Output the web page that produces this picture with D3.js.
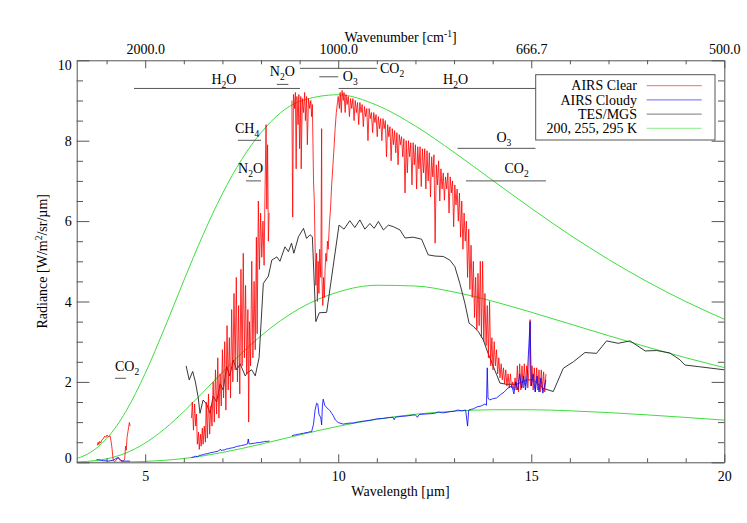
<!DOCTYPE html>
<html><head><meta charset="utf-8">
<script src="https://cdn.jsdelivr.net/npm/d3@7"></script>
<style>
html,body{margin:0;padding:0;background:#fff;}
svg{display:block;}
</style></head><body>
<svg id="chart" width="747" height="523"></svg>
<script>
// ---------------- data ----------------
const wavelengthTicks = [5, 10, 15, 20];
const wavelengthMinor = [4, 6, 7, 8, 9, 11, 12, 13, 14, 16, 17, 18, 19];
const radianceTicks = [0, 2, 4, 6, 8, 10];
const radianceMinor = [0.5,1,1.5,2.5,3,3.5,4.5,5,5.5,6.5,7,7.5,8.5,9,9.5];

// Planck curves (values read / tabulated for 200, 255, 295 K)
const planckWl = [3.2258,3.5,3.75,4,4.25,4.5,5,5.5,6,6.5,7,7.5,8,9,10,11,12,13,14,15,16,17,18,19,20];
const planck295 = [0.093,0.201,0.361,0.589,0.891,1.268,2.212,3.334,4.520,5.661,6.682,7.535,8.199,8.977,9.143,8.883,8.365,7.712,7.013,6.317,5.657,5.047,4.494,4.000,3.559];
const planck255 = [0.0086,0.0226,0.0469,0.0870,0.1473,0.2316,0.4789,0.8295,1.2624,1.744,2.239,2.714,3.147,3.827,4.237,4.404,4.385,4.236,4.007,3.733,3.442,3.150,2.868,2.602,2.356];
const planck200 = [0.0001,0.0003,0.0008,0.0018,0.0038,0.0074,0.0215,0.0494,0.0951,0.1603,0.2439,0.3427,0.4521,0.6815,0.8953,1.0699,1.1955,1.2724,1.3069,1.3069,1.2810,1.2366,1.1800,1.1162,1.0488];

// TES/MGS spectrum [wavelength, radiance]
const tesMgs = [[6.06,2.40],[6.14,2.05],[6.23,2.26],[6.30,2.00],[6.37,1.63],[6.42,1.22],[6.50,1.55],[6.59,1.45],[6.68,1.22],[6.76,1.65],[6.85,1.50],[6.94,1.95],[7.02,1.80],[7.11,2.38],[7.19,2.15],[7.28,2.54],[7.37,2.30],[7.46,2.45],[7.59,2.15],[7.67,2.25],[7.76,2.30],[7.85,2.15],[7.95,2.60],[8.06,4.45],[8.19,4.63],[8.28,5.03],[8.41,5.11],[8.49,5.00],[8.62,5.36],[8.71,5.24],[8.79,5.45],[8.85,5.20],[8.97,5.61],[9.10,5.82],[9.18,5.57],[9.27,5.66],[9.33,5.61],[9.42,3.50],[9.51,3.72],[9.70,3.73],[10.02,5.90],[10.15,5.80],[10.30,6.01],[10.43,5.84],[10.56,6.03],[10.69,5.80],[10.82,5.94],[10.93,5.82],[11.04,5.99],[11.17,5.78],[11.30,5.90],[11.43,5.86],[11.60,5.78],[11.73,5.58],[11.94,5.60],[12.16,5.55],[12.33,5.16],[12.51,5.13],[12.72,5.12],[12.89,5.03],[13.02,4.87],[13.15,4.45],[13.28,3.96],[13.39,3.46],[13.50,3.38],[13.63,3.25],[13.76,3.04],[13.85,2.79],[14.02,2.38],[14.19,1.97],[14.36,1.94],[14.62,1.94],[14.88,2.05],[15.05,2.05],[15.31,1.84],[15.57,1.76],[15.83,2.34],[16.09,2.50],[16.39,2.73],[16.69,2.71],[16.95,3.02],[17.25,2.96],[17.56,3.02],[17.95,2.77],[18.25,2.78],[18.59,2.72],[18.85,2.55],[18.98,2.42],[19.33,2.38],[20.0,2.30]];

// AIRS clear-sky spectrum [wavelength, radiance]; null = channel gap
const airsClear = [
[3.76,0.42],[3.78,0.50],[3.80,0.44],[3.82,0.52],[3.85,0.48],[3.88,0.56],[3.91,0.58],[3.95,0.65],[3.98,0.62],[4.01,0.68],[4.05,0.63],[4.09,0.66],[4.12,0.50],[4.14,0.35],[4.17,0.06],[4.20,0.02],[4.24,0.04],[4.28,0.11],[4.31,0.12],[4.34,0.06],[4.38,0.02],[4.43,0.03],[4.47,0.08],[4.49,0.40],[4.51,0.30],[4.53,0.62],[4.56,0.80],[4.59,0.99],[4.61,0.90],
[5.4,null],
[6.20,1.10],[6.22,1.50],[6.25,0.80],[6.28,1.45],[6.31,0.90],[6.33,1.20],[6.35,0.45],[6.38,0.75],[6.40,0.32],[6.43,0.70],[6.45,0.40],[6.48,0.85],[6.50,0.45],[6.53,0.90],[6.56,0.50],[6.58,1.50],[6.61,0.60],[6.64,1.70],[6.67,0.70],[6.70,1.40],[6.73,0.90],[6.76,2.00],[6.79,1.00],[6.82,2.30],[6.85,1.20],[6.88,2.60],[6.91,1.10],[6.94,2.20],[6.97,1.40],[7.00,2.80],[7.03,1.60],[7.06,3.00],[7.09,1.30],[7.12,3.40],[7.15,1.80],[7.18,3.10],[7.21,1.60],[7.24,3.80],[7.27,2.00],[7.30,4.20],[7.33,2.30],[7.36,4.60],[7.39,2.00],[7.42,3.90],[7.45,1.70],[7.48,4.80],[7.51,2.40],[7.54,5.20],[7.57,2.60],[7.60,4.40],[7.63,2.20],[7.66,3.80],[7.68,1.00],[7.70,3.50],[7.73,2.40],[7.76,5.00],[7.79,2.60],[7.82,4.50],[7.85,2.80],[7.88,5.60],[7.90,3.20],[7.93,6.50],[7.96,4.80],[7.99,6.20],[8.02,5.10],[8.05,6.00],[8.08,4.90],[8.10,6.50],[8.13,8.40],[8.15,6.30],[8.17,7.90],[8.19,5.50],[8.21,6.20],
[8.5,null],
[8.80,9.00],[8.82,6.10],[8.84,9.15],[8.87,8.80],[8.89,9.20],[8.91,7.30],[8.93,9.10],[8.96,8.40],[8.98,9.15],[9.00,7.80],[9.03,9.10],[9.04,7.30],[9.07,9.05],[9.10,8.70],[9.13,9.20],[9.15,8.50],[9.18,9.10],[9.20,7.90],[9.23,9.05],[9.26,8.80],[9.29,9.00],[9.31,8.60],[9.33,8.90],[9.36,7.00],[9.38,6.50],[9.40,5.40],[9.42,4.40],[9.44,5.20],[9.46,4.00],[9.48,5.00],[9.50,4.20],[9.52,5.30],[9.55,4.60],[9.57,8.30],[9.58,4.50],[9.60,3.90],[9.62,4.60],[9.64,4.10],[9.66,4.80],[9.68,5.20],[9.70,5.00],[9.72,5.50],[9.74,5.30],[9.77,5.90],[9.80,6.30],[9.83,6.90],[9.86,7.35],[9.89,7.80],[9.92,8.30],[9.95,8.70],[9.98,8.95],
[10.00,9.10],[10.03,8.80],[10.05,9.20],[10.08,8.70],[10.10,9.25],[10.13,9.00],[10.15,9.20],[10.18,8.70],[10.20,9.15],[10.23,8.90],[10.26,9.10],[10.29,8.60],[10.32,9.05],[10.35,8.80],[10.38,9.05],[10.41,8.50],[10.44,9.00],[10.47,8.70],[10.50,8.95],[10.53,8.40],[10.56,8.95],[10.59,8.70],[10.62,8.90],[10.65,8.35],[10.68,8.85],[10.71,8.60],[10.74,8.80],[10.77,8.00],[10.80,8.80],[10.83,8.55],[10.86,8.70],[10.89,8.20],[10.92,8.70],[10.95,8.45],[10.98,8.65],[11.01,8.10],[11.04,8.60],[11.07,8.30],[11.10,8.55],[11.13,8.00],[11.16,8.55],[11.19,8.30],[11.22,8.50],[11.25,7.60],[11.28,8.40],[11.31,8.10],[11.34,8.35],[11.37,7.50],[11.40,8.30],[11.43,7.90],[11.46,8.25],[11.49,7.70],[11.52,8.20],[11.55,7.40],[11.58,8.15],[11.61,7.90],[11.64,8.10],[11.67,7.60],[11.70,8.05],[11.73,6.70],[11.76,8.00],[11.79,7.20],[11.82,8.00],[11.85,7.60],[11.88,7.95],[11.91,6.90],[11.94,7.95],[11.97,7.40],[12.00,7.90],[12.03,6.80],[12.06,7.85],[12.09,7.30],[12.12,7.85],[12.15,6.86],[12.18,7.80],[12.21,7.20],[12.24,7.80],[12.27,6.80],[12.30,7.75],[12.33,7.00],[12.36,7.70],[12.39,6.60],[12.42,7.60],[12.45,7.10],[12.48,7.65],[12.51,5.45],[12.54,7.40],[12.57,6.90],[12.60,7.50],[12.63,6.50],[12.66,7.30],[12.69,6.80],[12.72,7.20],[12.75,6.52],[12.78,7.10],[12.81,6.80],[12.84,7.20],[12.87,6.20],[12.90,7.10],[12.93,6.70],[12.96,7.00],[12.99,5.86],[13.02,6.90],[13.05,6.40],[13.08,6.80],[13.11,6.00],[13.14,6.70],[13.17,5.60],[13.20,6.50],[13.23,5.30],[13.26,6.20],[13.29,5.50],[13.32,6.00],[13.35,4.60],[13.38,5.80],[13.41,4.30],[13.44,5.40],[13.47,4.10],[13.50,5.00],[13.53,3.60],[13.56,4.60],[13.59,3.30],[13.62,4.70],[13.65,3.40],[13.68,5.00],[13.71,3.10],[13.74,5.00],[13.77,3.00],[13.80,4.20],[13.83,2.90],[13.86,3.90],[13.89,2.60],[13.92,4.00],[13.95,2.40],[13.98,3.10],[14.01,2.30],[14.04,3.00],[14.07,2.40],[14.10,2.80],[14.13,2.20],[14.16,2.60],[14.19,2.10],[14.22,2.45],[14.25,2.05],[14.28,2.35],[14.31,1.95],[14.34,2.30],[14.37,1.90],[14.40,2.20],[14.43,1.85],[14.46,2.20],[14.49,1.85],[14.52,2.00],[14.55,1.80],[14.58,2.10],[14.61,1.80],[14.64,2.40],[14.67,1.75],[14.70,2.45],[14.73,1.80],[14.76,2.40],[14.79,1.85],[14.82,2.45],[14.85,1.90],[14.88,2.40],[14.91,1.85],[14.94,2.30],[14.97,3.55],[14.99,1.90],[15.02,2.40],[15.05,1.80],[15.08,2.35],[15.11,1.75],[15.14,2.35],[15.17,1.80],[15.20,2.30],[15.23,1.75],[15.26,2.30],[15.29,1.80],[15.32,2.25],[15.35,1.75],[15.38,2.20]];

// AIRS cloudy spectrum [wavelength, radiance]; null = channel gap
const airsCloudy = [
[3.74,0.07],[3.80,0.06],[3.86,0.05],[3.92,0.04],[3.98,0.04],[4.04,0.03],[4.10,0.04],[4.16,0.05],[4.22,0.08],[4.27,0.11],[4.32,0.10],[4.37,0.05],[4.43,0.03],[4.50,0.03],[4.56,0.03],[4.61,0.03],
[5.4,null],
[6.20,0.12],[6.26,0.13],[6.30,0.15],[6.36,0.14],[6.40,0.17],[6.46,0.18],[6.50,0.19],[6.56,0.21],[6.60,0.21],[6.66,0.23],[6.70,0.24],[6.76,0.25],[6.80,0.26],[6.86,0.27],[6.90,0.28],[6.95,0.33],[6.97,0.29],[7.00,0.30],[7.06,0.31],[7.10,0.33],[7.16,0.34],[7.20,0.35],[7.26,0.36],[7.30,0.37],[7.36,0.39],[7.40,0.40],[7.46,0.41],[7.50,0.42],[7.56,0.43],[7.60,0.44],[7.65,0.46],[7.67,0.58],[7.69,0.46],[7.74,0.46],[7.80,0.47],[7.86,0.48],[7.90,0.49],[7.96,0.49],[8.00,0.50],[8.06,0.51],[8.10,0.52],[8.16,0.52],[8.22,0.53],
[8.5,null],
[8.80,0.66],[8.86,0.68],[8.90,0.68],[8.96,0.70],[9.00,0.70],[9.06,0.72],[9.10,0.72],[9.16,0.74],[9.20,0.74],[9.26,0.76],[9.31,0.76],[9.36,0.95],[9.40,1.30],[9.44,1.47],[9.47,1.45],[9.50,1.20],[9.55,1.10],[9.57,0.93],[9.59,1.40],[9.61,1.57],[9.65,1.42],[9.70,1.36],[9.75,1.32],[9.79,1.28],[9.83,1.22],[9.87,1.16],[9.93,1.05],[10.00,0.99],[10.13,0.95],[10.25,0.97],[10.40,0.98],[10.55,1.01],[10.70,1.03],[10.85,1.05],[11.00,1.08],[11.15,1.09],[11.30,1.11],[11.42,1.12],[11.45,1.06],[11.48,1.12],[11.60,1.14],[11.75,1.15],[11.90,1.17],[12.00,1.18],[12.05,1.12],[12.10,1.19],[12.25,1.20],[12.40,1.21],[12.50,1.22],[12.60,1.25],[12.70,1.23],[12.80,1.24],[12.90,1.26],[13.00,1.27],[13.10,1.30],[13.20,1.28],[13.30,1.30],[13.35,0.90],[13.38,1.30],[13.45,1.32],[13.50,1.33],[13.60,1.38],[13.70,1.40],[13.80,1.45],[13.84,1.42],[13.86,2.35],[13.88,1.60],[13.92,1.55],[14.00,1.58],[14.10,1.60],[14.20,1.68],[14.30,1.75],[14.40,1.85],[14.50,1.90],[14.55,1.70],[14.60,2.00],[14.65,1.80],[14.70,2.20],[14.75,1.85],[14.80,2.15],[14.85,1.80],[14.90,2.20],[14.97,3.50],[15.00,1.90],[15.05,2.20],[15.10,1.75],[15.15,2.15],[15.20,1.75],[15.25,2.10],[15.30,1.72],[15.38,2.05]];

// band annotations
const bandNames  = ["H2O","N2O","CO2","O3","H2O","CH4","N2O","O3","CO2","CO2"];
const bandStart  = [4.71, 8.41, 9.01, 9.51, 10.01, 7.40, 7.61, 13.09, 13.31, 4.22];
const bandEnd    = [9.01, 8.71, 11.0, 10.0, 15.38, 8.0, 8.0, 15.11, 15.38, 4.50];
const bandLevel  = [9.30, 9.40, 9.80, 9.59, 9.30, 8.01, 7.00, 7.81, 7.00, 2.09];
const bandLabelX = [7.04, 8.55, 11.08, 10.12, 13.04, 7.64, 7.73, 14.29, 14.62, 4.53];
const bandLabelY = [9.41, 9.61, 9.68, 9.49, 9.41, 8.20, 7.20, 7.98, 7.19, 2.28];
const bandAnchor = ["middle","middle","start","start","middle","middle","middle","middle","middle","middle"];

const legendNames = ["AIRS Clear", "AIRS Cloudy", "TES/MGS", "200, 255, 295 K"];

// ---------------- drawing ----------------
const FONT = '"Liberation Serif","Times New Roman",Times,serif';
const FS = 14;
const AX = "#555";
const RED = "#ff0000", BLUE = "#0000ff", BLACK = "#222", GREEN = "#3ede3e";
const legendColors = [RED, BLUE, BLACK, GREEN];

const L = 76.7, R = 724.3, T = 60.3, B = 462.3;
const x = d3.scaleLinear().domain([10000/3100, 20]).range([L, R]);
const y = d3.scaleLinear().domain([0, 10]).range([B, T]);

const svg = d3.select("#chart").attr("font-family", FONT).attr("font-size", FS);

svg.append("defs").append("clipPath").attr("id", "clip")
  .append("rect").attr("x", L).attr("y", T).attr("width", R - L).attr("height", B - T);

const plot = svg.append("g").attr("clip-path", "url(#clip)");

const smooth = d3.line().curve(d3.curveMonotoneX).x(d => x(d[0])).y(d => y(d[1]));
const seg = d3.line().defined(d => d[1] != null).x(d => x(d[0])).y(d => y(d[1]));

[planck295, planck255, planck200].forEach(vals => {
  plot.append("path").datum(planckWl.map((w, i) => [w, vals[i]]))
    .attr("d", smooth).attr("fill", "none").attr("stroke", GREEN).attr("stroke-width", 1);
});

plot.append("path").datum(tesMgs).attr("d", seg).attr("fill", "none")
  .attr("stroke", BLACK).attr("stroke-width", 0.9);

plot.append("path").datum(airsClear).attr("d", seg).attr("fill", "none")
  .attr("stroke", RED).attr("stroke-width", 1).attr("stroke-opacity", 0.8).attr("stroke-linejoin", "round");

plot.append("path").datum(airsCloudy).attr("d", seg).attr("fill", "none")
  .attr("stroke", BLUE).attr("stroke-width", 1).attr("stroke-opacity", 0.8);

// annotations
function chemLabel(sel, name) {
  const parts = name.match(/[A-Za-z]+|\d+/g);
  parts.forEach(p => {
    if (/\d/.test(p)) {
      sel.append("tspan").attr("font-size", 9.5).attr("dy", 4).text(p);
    } else {
      const t = sel.append("tspan").text(p);
      if (sel.selectAll("tspan").size() > 1) t.attr("dy", -4);
    }
  });
}
const ann = svg.append("g");
bandNames.forEach((n, i) => {
  ann.append("line")
    .attr("x1", x(bandStart[i])).attr("x2", x(bandEnd[i]))
    .attr("y1", y(bandLevel[i])).attr("y2", y(bandLevel[i]))
    .attr("stroke", "#555").attr("stroke-width", 1);
  const t = ann.append("text").attr("x", x(bandLabelX[i])).attr("y", y(bandLabelY[i]))
    .attr("text-anchor", bandAnchor[i]).attr("fill", "#000");
  chemLabel(t, n);
});

// axes
function styleAxis(g) {
  g.attr("font-family", FONT).attr("font-size", FS);
  g.selectAll(".domain").attr("stroke", AX);
  g.selectAll(".tick line").attr("stroke", AX);
  g.selectAll(".tick text").attr("fill", "#000");
}
const XMAJ = 8, XMIN = 4, YMAJ = 12.7, YMIN = 6.3;

svg.append("g").attr("transform", `translate(0,${B})`)
  .call(d3.axisBottom(x).tickValues(wavelengthTicks).tickSize(-XMAJ).tickSizeOuter(0).tickPadding(9).tickFormat(d3.format("d")))
  .call(styleAxis);
svg.append("g").attr("transform", `translate(0,${B})`)
  .call(d3.axisBottom(x).tickValues(wavelengthMinor).tickSize(-XMIN).tickSizeOuter(0).tickFormat(""))
  .call(styleAxis).call(g => g.select(".domain").remove());

svg.append("g").attr("transform", `translate(0,${T})`)
  .call(d3.axisTop(x).tickValues(wavelengthTicks).tickSize(-XMAJ).tickSizeOuter(0).tickPadding(6).tickFormat(d => (10000 / d).toFixed(1)))
  .call(styleAxis);
svg.append("g").attr("transform", `translate(0,${T})`)
  .call(d3.axisTop(x).tickValues(wavelengthMinor).tickSize(-XMIN).tickSizeOuter(0).tickFormat(""))
  .call(styleAxis).call(g => g.select(".domain").remove());

const yAxisG = svg.append("g").attr("transform", `translate(${L},0)`)
  .call(d3.axisLeft(y).tickValues(radianceTicks).tickSize(-YMAJ).tickSizeOuter(0).tickPadding(5).tickFormat(d3.format("d")))
  .call(styleAxis);
yAxisG.selectAll(".tick text").attr("dy", d => d === 0 ? "0em" : (d === 10 ? "0.68em" : "0.34em"));
svg.append("g").attr("transform", `translate(${L},0)`)
  .call(d3.axisLeft(y).tickValues(radianceMinor).tickSize(-YMIN).tickSizeOuter(0).tickFormat(""))
  .call(styleAxis).call(g => g.select(".domain").remove());

svg.append("g").attr("transform", `translate(${R},0)`)
  .call(d3.axisRight(y).tickValues(radianceTicks).tickSize(-YMAJ).tickSizeOuter(0).tickFormat(""))
  .call(styleAxis);
svg.append("g").attr("transform", `translate(${R},0)`)
  .call(d3.axisRight(y).tickValues(radianceMinor).tickSize(-YMIN).tickSizeOuter(0).tickFormat(""))
  .call(styleAxis).call(g => g.select(".domain").remove());

// titles
const xt = svg.append("text").attr("x", (L + R) / 2).attr("y", 496).attr("text-anchor", "middle");
xt.append("tspan").text("Wavelength [");
xt.append("tspan").text("µ");
xt.append("tspan").text("m]");

const tt = svg.append("text").attr("x", (L + R) / 2).attr("y", 42).attr("text-anchor", "middle");
tt.append("tspan").text("Wavenumber [cm");
tt.append("tspan").attr("font-size", 9.5).attr("dy", -5).text("-1");
tt.append("tspan").attr("dy", 5).text("]");

const yt = svg.append("text").attr("transform", `translate(47,${(T + B) / 2}) rotate(-90)`).attr("text-anchor", "middle");
yt.append("tspan").text("Radiance [W/m");
yt.append("tspan").attr("font-size", 9.5).attr("dy", -5).text("2");
yt.append("tspan").attr("dy", 5).text("/sr/µm]");

// legend
const lg = svg.append("g");
lg.append("rect").attr("x", 535.7).attr("y", 74.7).attr("width", 179.3).attr("height", 65.3)
  .attr("fill", "#fff").attr("stroke", "#555").attr("stroke-width", 1);
legendNames.forEach((n, i) => {
  const yy = 85.7 + i * 14.2;
  lg.append("text").attr("x", 637).attr("y", yy + 4.6).attr("text-anchor", "end").attr("fill", "#000").text(n);
  lg.append("line").attr("x1", 646.7).attr("x2", 701.7).attr("y1", yy).attr("y2", yy)
    .attr("stroke", legendColors[i]).attr("stroke-width", 1).attr("stroke-opacity", 0.6);
});
</script>
</body></html>
